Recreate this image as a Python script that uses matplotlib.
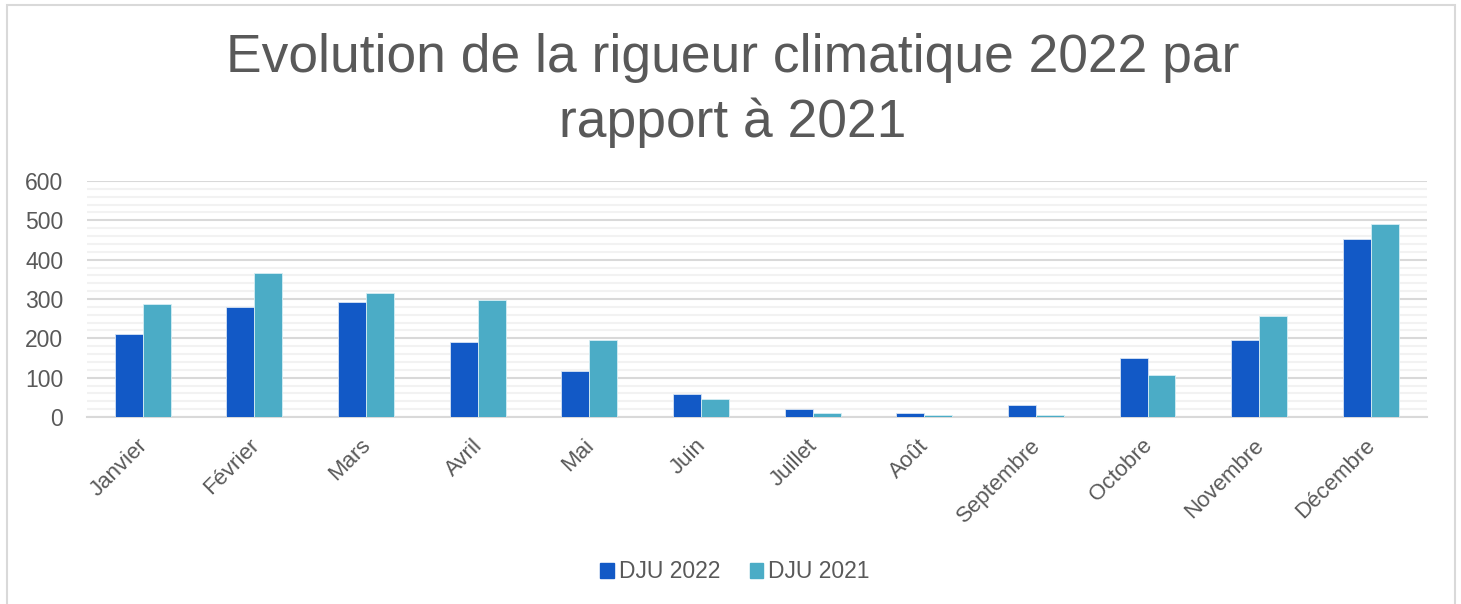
import matplotlib.pyplot as plt
from matplotlib.patches import Rectangle, Patch
from matplotlib.ticker import MultipleLocator
from matplotlib.transforms import ScaledTranslation
import numpy as np

plt.rcParams['font.family'] = ['Liberation Sans', 'DejaVu Sans']

mois = ['Janvier', 'Février', 'Mars', 'Avril', 'Mai', 'Juin', 'Juillet',
        'Août', 'Septembre', 'Octobre', 'Novembre', 'Décembre']
dju_2022 = [212, 279, 292, 190, 117, 59, 20, 9, 30, 149, 195, 452]
dju_2021 = [288, 365, 315, 297, 195, 45, 10, 4, 5, 107, 256, 490]

c2022 = '#1259c6'
c2021 = '#4bacc6'
txt = '#595959'

fig = plt.figure(figsize=(14.61, 6.04), dpi=100)
ax = fig.add_axes([0.0595, 0.3096, 0.917, 0.3907])

x = np.arange(len(mois))
w = 0.25
ax.bar(x - w / 2, dju_2022, w, color=c2022, edgecolor='#d6e4f5', linewidth=0.6, zorder=3)
ax.bar(x + w / 2, dju_2021, w, color=c2021, edgecolor='#d6eef4', linewidth=0.6, zorder=3)

ax.set_xlim(-0.5, len(mois) - 0.5)
ax.set_ylim(0, 600)
ax.yaxis.set_major_locator(MultipleLocator(100))
ax.yaxis.set_minor_locator(MultipleLocator(20))
ax.grid(which='major', axis='y', color='#d9d9d9', linewidth=1.5, zorder=1)
ax.grid(which='minor', axis='y', color='#f2f2f2', linewidth=1.5, zorder=0)
for s in ['top', 'right', 'left']:
    ax.spines[s].set_visible(False)
ax.spines['bottom'].set_color('#d9d9d9')
ax.spines['bottom'].set_linewidth(1.5)

ax.set_xticks(x)
ax.set_xticklabels(mois, rotation=45, ha='right', rotation_mode='anchor',
                   fontsize=16, color=txt)
ax.tick_params(axis='x', length=0, pad=13)
shift = ScaledTranslation(-6 / 100, 0, fig.dpi_scale_trans)
for lab in ax.get_xticklabels():
    lab.set_transform(lab.get_transform() + shift)
ax.tick_params(axis='y', which='both', length=0, pad=17, labelsize=16.5, labelcolor=txt)

fig.text(0.5017, 1 - 33 / 604, 'Evolution de la rigueur climatique 2022 par\nrapport à 2021',
         ha='center', va='top', fontsize=38.4, color=txt, linespacing=1.37)

handles = [Patch(color=c2022, label='DJU 2022'), Patch(color=c2021, label='DJU 2021')]
fig.legend(handles=handles, loc='center', bbox_to_anchor=(0.503, 1 - 572 / 604), ncol=2,
           frameon=False, fontsize=16.5, labelcolor=txt, handlelength=0.6,
           handleheight=0.6, handletextpad=0.2, columnspacing=1.3)

fig.patches.append(Rectangle((7 / 1461, -0.05), 1448 / 1461, 1.05 - 5 / 604,
                             transform=fig.transFigure, fill=False,
                             edgecolor='#d9d9d9', linewidth=1.5))

fig.savefig('out.png', dpi=100)
